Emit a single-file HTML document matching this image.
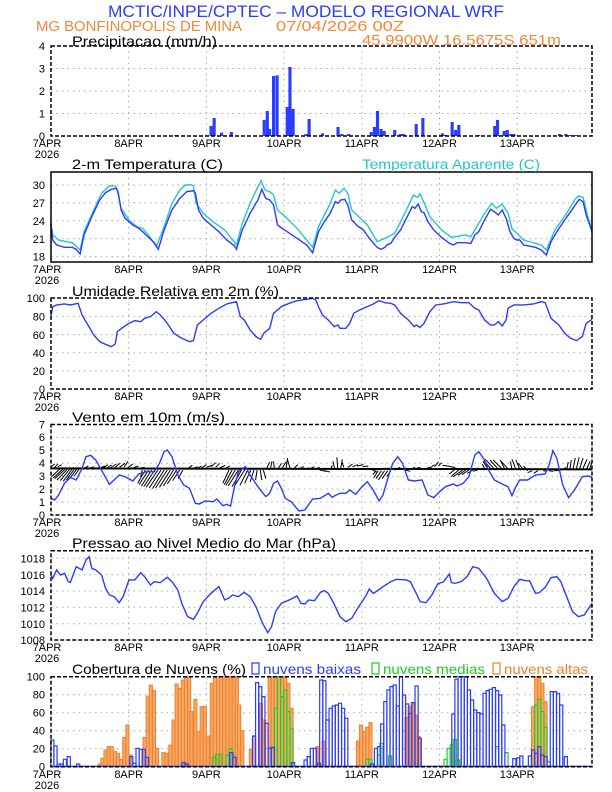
<!DOCTYPE html>
<html><head><meta charset="utf-8"><style>
html,body{margin:0;padding:0;background:#fff}
svg{display:block}
text{font-family:"Liberation Sans",sans-serif}
.t{font-size:11px;fill:#000}
.d{font-size:11px;fill:#000;text-anchor:middle}
.pt{font-size:14px;fill:#000}
.g{stroke:#aaa;stroke-width:1;stroke-dasharray:1.5,4}
.fr{fill:none;stroke:#000;stroke-width:1.5;stroke-dasharray:4,2}
.ln{fill:none;stroke:#2a3cff;stroke-width:1.4;vector-effect:non-scaling-stroke}
.cy{fill:none;stroke:#22c8c8;stroke-width:1.4;vector-effect:non-scaling-stroke}
.pb rect{fill:#2a3cff}
.or rect{fill:#f6a867;stroke:#f07f2a;stroke-width:1;vector-effect:non-scaling-stroke}
.bl rect{fill:none;stroke:#2a3cff;stroke-width:1.2;vector-effect:non-scaling-stroke}
.gr rect{fill:none;stroke:#22cc22;stroke-width:1.2;vector-effect:non-scaling-stroke}
.wa{fill:none;stroke:#000;stroke-width:1;vector-effect:non-scaling-stroke}
</style></head><body>
<svg width="612" height="792" viewBox="0 0 612 792" xmlns="http://www.w3.org/2000/svg">
<text x="108" y="17" style="font-size:17px;fill:#2a3cff" textLength="396" lengthAdjust="spacingAndGlyphs">MCTIC/INPE/CPTEC – MODELO REGIONAL WRF</text>
<text x="36" y="31" style="font-size:15px;fill:#f0883a" textLength="206" lengthAdjust="spacingAndGlyphs">MG BONFINOPOLIS DE MINA</text>
<text x="276" y="31" style="font-size:15px;fill:#f0883a" textLength="128" lengthAdjust="spacingAndGlyphs">07/04/2026 00Z</text>
<text x="362" y="45" style="font-size:15px;fill:#f0883a" textLength="199" lengthAdjust="spacingAndGlyphs">45.9900W 16.5675S 651m</text>

<g class="g">
<line x1="51" x2="592" y1="113.5" y2="113.5"/><line x1="51" x2="592" y1="91" y2="91"/><line x1="51" x2="592" y1="68.5" y2="68.5"/>
<line x1="51" x2="592" y1="185" y2="185"/><line x1="51" x2="592" y1="202.9" y2="202.9"/><line x1="51" x2="592" y1="220.8" y2="220.8"/><line x1="51" x2="592" y1="238.7" y2="238.7"/><line x1="51" x2="592" y1="256.6" y2="256.6"/>
<line x1="51" x2="592" y1="370.9" y2="370.9"/><line x1="51" x2="592" y1="352.7" y2="352.7"/><line x1="51" x2="592" y1="334.6" y2="334.6"/><line x1="51" x2="592" y1="316.4" y2="316.4"/>
<line x1="51" x2="592" y1="502.1" y2="502.1"/><line x1="51" x2="592" y1="489.1" y2="489.1"/><line x1="51" x2="592" y1="476.2" y2="476.2"/><line x1="51" x2="592" y1="463.3" y2="463.3"/><line x1="51" x2="592" y1="450.4" y2="450.4"/><line x1="51" x2="592" y1="437.4" y2="437.4"/>
<line x1="51" x2="592" y1="623.7" y2="623.7"/><line x1="51" x2="592" y1="607.3" y2="607.3"/><line x1="51" x2="592" y1="591" y2="591"/><line x1="51" x2="592" y1="574.7" y2="574.7"/><line x1="51" x2="592" y1="558.3" y2="558.3"/>
<line x1="51" x2="592" y1="748.7" y2="748.7"/><line x1="51" x2="592" y1="730.7" y2="730.7"/><line x1="51" x2="592" y1="712.7" y2="712.7"/><line x1="51" x2="592" y1="694.7" y2="694.7"/>
</g>
<g class="g">
<path d="M128.7 46V136M206.4 46V136M284.1 46V136M361.8 46V136M439.5 46V136M517.2 46V136
M128.7 172V262M206.4 172V262M284.1 172V262M361.8 172V262M439.5 172V262M517.2 172V262
M128.7 298V389M206.4 298V389M284.1 298V389M361.8 298V389M439.5 298V389M517.2 298V389
M128.7 424.5V515M206.4 424.5V515M284.1 424.5V515M361.8 424.5V515M439.5 424.5V515M517.2 424.5V515
M128.7 550.7V640M206.4 550.7V640M284.1 550.7V640M361.8 550.7V640M439.5 550.7V640M517.2 550.7V640
M128.7 676.7V766.7M206.4 676.7V766.7M284.1 676.7V766.7M361.8 676.7V766.7M439.5 676.7V766.7M517.2 676.7V766.7"/>
</g>

<g class="pb" transform="matrix(0.3908 0 0 0.3333 0 0)">
<rect x="246" y="405" width="8" height="3"/><rect x="446" y="405" width="8" height="3"/><rect x="536" y="378" width="8" height="30"/><rect x="544" y="354" width="8" height="54"/><rect x="563" y="398" width="8" height="10"/><rect x="588" y="396" width="8" height="12"/><rect x="672" y="360" width="8" height="48"/><rect x="680" y="333" width="8" height="75"/><rect x="686" y="387" width="8" height="21"/><rect x="696" y="228" width="8" height="180"/><rect x="705" y="226" width="8" height="182"/><rect x="731" y="321" width="8" height="87"/><rect x="738" y="201" width="8" height="207"/><rect x="746" y="327" width="8" height="81"/><rect x="779" y="402" width="8" height="6"/><rect x="787" y="357" width="8" height="51"/><rect x="821" y="400" width="8" height="8"/><rect x="861" y="381" width="8" height="27"/><rect x="871" y="402" width="8" height="6"/><rect x="888" y="402" width="8" height="6"/><rect x="946" y="396" width="8" height="12"/><rect x="954" y="381" width="8" height="27"/><rect x="962" y="333" width="8" height="75"/><rect x="971" y="387" width="8" height="21"/><rect x="979" y="393" width="8" height="15"/><rect x="988" y="405" width="8" height="3"/><rect x="1006" y="390" width="8" height="18"/><rect x="1021" y="402" width="8" height="6"/><rect x="1028" y="402" width="8" height="6"/><rect x="1061" y="372" width="8" height="36"/><rect x="1078" y="354" width="8" height="54"/><rect x="1128" y="400" width="8" height="8"/><rect x="1136" y="405" width="8" height="3"/><rect x="1153" y="366" width="8" height="42"/><rect x="1162" y="390" width="8" height="18"/><rect x="1170" y="375" width="8" height="33"/><rect x="1221" y="405" width="8" height="3"/><rect x="1262" y="378" width="8" height="30"/><rect x="1269" y="360" width="8" height="48"/><rect x="1286" y="393" width="8" height="15"/><rect x="1294" y="390" width="8" height="18"/><rect x="1303" y="402" width="8" height="6"/><rect x="1311" y="402" width="8" height="6"/><rect x="1428" y="402" width="8" height="6"/><rect x="1444" y="402" width="8" height="6"/><rect x="1456" y="405" width="8" height="3"/><rect x="1469" y="405" width="8" height="3"/>
</g>

<g transform="matrix(0.3908 0 0 0.3333 0 160)">
<polyline class="cy" points="130,190 135,225 150,240 170,245 185,248 205,270 215,215 240,150 260,100 280,77 295,78 300,90 310,145 330,180 350,200 365,205 380,225 400,260 420,200 440,130 460,90 475,75 490,74 495,78 502,130 520,160 545,185 575,210 605,255 620,190 640,130 660,80 668,62 678,90 690,95 700,105 710,150 730,170 760,205 800,262 815,200 830,165 845,130 858,90 868,100 880,85 890,100 900,150 940,195 965,245 985,235 1010,220 1040,150 1058,105 1068,112 1075,102 1085,128 1100,170 1130,210 1155,232 1190,225 1205,230 1220,200 1240,160 1258,130 1270,145 1285,132 1300,160 1310,205 1340,240 1385,255 1398,270 1420,210 1450,160 1470,120 1480,108 1492,112 1505,175 1515,210"/>
<polyline class="ln" points="130,190 135,240 145,255 165,262 185,262 195,268 205,282 215,225 235,170 255,120 270,98 285,88 297,85 302,95 310,150 320,175 340,195 355,205 365,215 380,232 395,248 405,268 420,210 440,150 460,115 478,95 495,92 500,100 508,150 520,175 540,195 560,215 580,240 600,258 605,268 620,210 640,160 660,120 670,88 680,115 690,120 700,135 710,195 725,208 735,215 760,235 785,255 800,278 815,215 830,185 845,160 858,125 865,130 872,120 882,118 890,135 900,180 915,198 930,210 945,235 965,262 975,268 985,262 990,255 1000,250 1010,232 1025,210 1040,175 1055,140 1062,145 1070,132 1078,155 1085,158 1095,185 1110,210 1130,232 1150,250 1160,255 1170,248 1190,248 1205,250 1215,225 1225,215 1240,180 1255,148 1265,155 1275,165 1285,150 1295,175 1305,215 1315,235 1322,240 1330,240 1340,255 1370,262 1385,270 1398,285 1410,245 1425,215 1445,180 1460,155 1475,130 1482,118 1492,125 1500,165 1515,215"/>
<polyline class="ln" points="130,470 135,440 145,435 165,432 180,435 200,430 210,465 225,495 240,525 255,545 270,553 285,560 295,552 300,515 315,502 330,490 345,482 360,485 370,475 385,470 400,455 410,465 425,485 445,520 465,535 485,545 495,542 505,495 520,480 540,460 560,445 580,432 605,425 615,470 625,480 640,510 655,530 667,538 675,520 690,505 700,460 720,440 740,430 760,422 785,418 800,415 808,420 815,440 825,465 840,480 855,500 865,495 870,505 885,505 895,490 905,460 920,450 940,440 955,432 970,422 985,428 1000,430 1010,435 1025,460 1045,480 1060,500 1065,495 1075,502 1085,490 1100,455 1115,435 1135,432 1160,425 1180,428 1200,428 1215,445 1225,450 1240,480 1255,495 1265,495 1275,485 1285,498 1295,480 1300,445 1315,435 1340,435 1365,432 1385,425 1395,428 1410,475 1430,495 1445,520 1460,535 1475,542 1490,530 1500,490 1515,478"/>
</g>

<g transform="matrix(0.3908 0 0 0.3333 0 400)">
<path class="wa" style="stroke-width:2" d="M130 205 L1515 208"/>
<path class="wa" d="M130 200l10-8M140 202l8-10M148 200l10-6M154 206l-22 24M160 208l-24 26M166 208l-26 28M172 208l-26 32M178 208l-24 34M184 208l-22 36M190 208l-20 32M196 208l-18 28M202 208l-12 20M210 208l16-10M222 208l18-8M236 208l20-6M250 208l18-10M262 206l14-12M272 205l14-10M282 204l16-12M294 203l14-14M306 202l14-12M318 200l10-16M328 202l12-10M340 204l14-6M352 206l18-4M364 210l-4 20M372 210l-20 40M380 210l-24 44M388 210l-26 48M396 210l-28 50M404 210l-30 52M412 210l-30 54M420 210l-30 56M428 210l-30 54M436 210l-28 52M444 210l-26 48M452 210l-24 42M460 210l-18 32M468 210l-12 26M478 208l14-12M492 206l14-6M504 206l12-8M516 204l12-10M528 202l14-6M540 200l12-12M552 202l10-12M562 204l14-8M576 206l12-8M586 210l-16 40M594 210l-20 44M602 210l-24 46M610 210l-26 48M618 210l-24 50M626 210l-26 48M634 210l-20 46M642 210l-16 40M650 210l-10 36M658 210l-4 30M666 210l4 30M674 210l6 26M682 206l8-20M692 206l4-22M702 206l-2-22M712 206l8-16M722 204l10-18M732 204l4-30M742 204l-6-24M752 206l10-12M764 206l14-6M776 208l16-4M790 208l14-8M804 208l14-6M818 210l16 4M830 212l14 4M846 210l4-14M856 206l-4-22M864 204l-2-32M872 204l4-26M880 202l-6-18M890 202l12-10M902 200l14-6M914 198l16-4M928 200l14-2M940 204l12 4M950 208l14 8M962 212l-8 12M968 212l-12 22M976 212l-14 24M984 212l-16 28M992 212l-14 24M1000 212l-10 18M1010 210l14-8M1022 208l16-4M1036 210l14 4M1050 208l12-6M1062 206l14-4M1074 206l14 2M1088 206l14-4M1100 204l12-10M1112 200l10-14M1122 198l8-10M1132 196l14 2M1146 198l14 4M1158 200l14 8M1168 204l-18 18M1176 208l-22 22M1184 210l-24 20M1192 210l-20 16M1200 210l-18 14M1210 210l-14 10M1222 210l-12 4M1232 208l-10-4M1240 206l-6-14M1248 206l-12-22M1256 206l-18-24M1264 206l-22-28M1274 206l-20-26M1284 206l-22-26M1292 208l-12-28M1300 206l-18-22M1310 208l-4-24M1320 208l-10-30M1330 208l-10-28M1340 210l-14-20M1350 212l-10-14M1362 212l-12 6M1376 212l-10 8M1390 212l10 2M1404 212l12 2M1418 212l12 0M1430 212l10-4M1440 210l8-8M1450 210l4-24M1458 210l4-30M1466 210l6-36M1474 210l8-38M1482 210l10-36M1490 210l12-32M1500 210l10-26M1508 210l6-20"/>
<polyline class="ln" points="130,295 140,300 150,285 165,250 180,232 195,240 210,205 220,170 232,166 245,180 262,215 280,253 292,240 305,225 320,230 340,243 355,222 375,215 395,215 408,190 420,155 428,150 440,170 455,225 470,255 485,265 500,310 510,312 525,303 545,305 555,297 570,317 580,313 590,318 600,260 610,215 628,200 640,225 660,260 680,290 690,280 700,250 710,243 720,265 730,295 745,305 765,333 780,330 800,297 820,295 840,280 850,292 860,285 870,280 885,280 895,270 910,283 925,262 940,245 955,270 970,303 980,285 995,225 1005,190 1018,170 1030,190 1045,240 1060,243 1080,240 1095,285 1110,293 1125,275 1140,260 1160,252 1170,258 1185,250 1200,230 1215,165 1225,155 1240,180 1250,210 1265,240 1290,255 1300,260 1310,287 1320,260 1330,240 1350,240 1370,225 1395,222 1405,195 1415,152 1425,175 1440,255 1455,293 1470,270 1490,230 1505,228 1515,232"/>
<polyline class="ln" points="130,525 135,535 145,510 155,525 165,520 175,545 180,547 195,500 210,510 220,480 228,470 235,505 245,510 260,525 270,565 280,585 292,590 305,608 315,590 330,540 345,540 360,518 370,530 385,555 395,545 410,548 428,532 440,545 455,570 465,610 480,650 495,658 505,640 520,605 540,580 560,560 575,600 585,595 595,585 610,590 625,577 640,590 655,620 670,665 685,698 695,680 705,635 720,610 740,600 760,588 770,610 780,612 790,600 805,602 820,577 830,572 840,580 855,612 870,650 885,665 900,655 915,625 935,590 945,567 955,580 965,573 980,560 1000,545 1015,538 1040,540 1050,545 1065,580 1075,605 1090,608 1105,585 1120,552 1135,545 1150,522 1155,548 1165,550 1180,545 1195,530 1210,500 1225,505 1245,535 1265,580 1285,605 1300,595 1315,560 1330,538 1345,542 1355,542 1370,580 1380,578 1395,562 1410,533 1425,530 1435,545 1450,590 1465,635 1480,650 1495,645 1515,610"/>
</g>

<g transform="matrix(0.3908 0 0 0.3333 0 640)">
<g class="or">
<rect x="251" y="372" width="8" height="8"/><rect x="258" y="355" width="8" height="25"/><rect x="266" y="330" width="8" height="50"/><rect x="274" y="320" width="8" height="60"/><rect x="282" y="320" width="8" height="60"/><rect x="290" y="335" width="8" height="45"/><rect x="298" y="340" width="8" height="40"/><rect x="306" y="358" width="8" height="22"/><rect x="314" y="292" width="8" height="88"/><rect x="322" y="255" width="8" height="125"/><rect x="330" y="345" width="8" height="35"/><rect x="366" y="292" width="8" height="88"/><rect x="374" y="168" width="8" height="212"/><rect x="382" y="135" width="8" height="245"/><rect x="390" y="152" width="8" height="228"/><rect x="398" y="325" width="8" height="55"/><rect x="414" y="338" width="8" height="42"/><rect x="422" y="340" width="8" height="40"/><rect x="432" y="315" width="8" height="65"/><rect x="440" y="240" width="8" height="140"/><rect x="448" y="132" width="8" height="248"/><rect x="456" y="145" width="8" height="235"/><rect x="464" y="120" width="8" height="260"/><rect x="472" y="110" width="8" height="270"/><rect x="480" y="110" width="8" height="270"/><rect x="486" y="215" width="8" height="165"/><rect x="496" y="178" width="8" height="202"/><rect x="504" y="275" width="8" height="105"/><rect x="512" y="200" width="8" height="180"/><rect x="520" y="200" width="8" height="180"/><rect x="528" y="288" width="8" height="92"/><rect x="538" y="130" width="8" height="250"/><rect x="546" y="110" width="8" height="270"/><rect x="554" y="110" width="8" height="270"/><rect x="562" y="110" width="8" height="270"/><rect x="570" y="110" width="8" height="270"/><rect x="578" y="110" width="8" height="270"/><rect x="586" y="110" width="8" height="270"/><rect x="594" y="110" width="8" height="270"/><rect x="602" y="110" width="8" height="270"/><rect x="608" y="195" width="8" height="185"/><rect x="616" y="272" width="8" height="108"/><rect x="638" y="328" width="8" height="52"/><rect x="646" y="290" width="8" height="90"/><rect x="664" y="190" width="8" height="190"/><rect x="672" y="240" width="8" height="140"/><rect x="686" y="110" width="8" height="270"/><rect x="694" y="110" width="8" height="270"/><rect x="702" y="110" width="8" height="270"/><rect x="710" y="110" width="8" height="270"/><rect x="718" y="110" width="8" height="270"/><rect x="726" y="110" width="8" height="270"/><rect x="734" y="130" width="8" height="250"/><rect x="742" y="205" width="8" height="175"/><rect x="808" y="320" width="8" height="60"/><rect x="824" y="303" width="8" height="77"/><rect x="912" y="303" width="8" height="77"/><rect x="920" y="255" width="8" height="125"/><rect x="928" y="275" width="8" height="105"/><rect x="936" y="262" width="8" height="118"/><rect x="944" y="248" width="8" height="132"/><rect x="1036" y="232" width="8" height="148"/><rect x="1044" y="200" width="8" height="180"/><rect x="1052" y="188" width="8" height="192"/><rect x="1060" y="225" width="8" height="155"/><rect x="1068" y="290" width="8" height="90"/><rect x="1360" y="200" width="8" height="180"/><rect x="1368" y="110" width="8" height="270"/><rect x="1376" y="110" width="8" height="270"/><rect x="1384" y="130" width="8" height="250"/><rect x="1392" y="185" width="8" height="195"/>
</g>
<g class="gr">
<rect x="544" y="352" width="8" height="28"/><rect x="552" y="343" width="8" height="37"/><rect x="560" y="343" width="8" height="37"/><rect x="578" y="345" width="8" height="35"/><rect x="586" y="326" width="8" height="54"/><rect x="694" y="325" width="8" height="55"/><rect x="702" y="205" width="8" height="175"/><rect x="710" y="110" width="8" height="270"/><rect x="718" y="170" width="8" height="210"/><rect x="726" y="150" width="8" height="230"/><rect x="734" y="215" width="8" height="165"/><rect x="742" y="265" width="8" height="115"/><rect x="786" y="350" width="8" height="30"/><rect x="936" y="358" width="8" height="22"/><rect x="944" y="358" width="8" height="22"/><rect x="966" y="345" width="8" height="35"/><rect x="972" y="310" width="8" height="70"/><rect x="994" y="348" width="8" height="32"/><rect x="1136" y="358" width="8" height="22"/><rect x="1144" y="325" width="8" height="55"/><rect x="1152" y="315" width="8" height="65"/><rect x="1160" y="298" width="8" height="82"/><rect x="1168" y="360" width="8" height="20"/><rect x="1268" y="320" width="8" height="60"/><rect x="1292" y="338" width="8" height="42"/><rect x="1368" y="195" width="8" height="185"/><rect x="1376" y="178" width="8" height="202"/><rect x="1384" y="215" width="8" height="165"/><rect x="1392" y="262" width="8" height="118"/><rect x="1400" y="365" width="8" height="15"/>
</g>
<g class="bl">
<rect x="130" y="300" width="8" height="80"/><rect x="138" y="318" width="8" height="62"/><rect x="146" y="372" width="8" height="8"/><rect x="154" y="372" width="8" height="8"/><rect x="162" y="358" width="8" height="22"/><rect x="172" y="350" width="8" height="30"/><rect x="196" y="372" width="8" height="8"/><rect x="332" y="350" width="8" height="30"/><rect x="340" y="370" width="8" height="10"/><rect x="348" y="325" width="8" height="55"/><rect x="356" y="328" width="8" height="52"/><rect x="364" y="328" width="8" height="52"/><rect x="372" y="352" width="8" height="28"/><rect x="466" y="368" width="8" height="12"/><rect x="474" y="372" width="8" height="8"/><rect x="588" y="338" width="8" height="42"/><rect x="596" y="352" width="8" height="28"/><rect x="646" y="288" width="8" height="92"/><rect x="654" y="128" width="8" height="252"/><rect x="662" y="140" width="8" height="240"/><rect x="670" y="170" width="8" height="210"/><rect x="678" y="250" width="8" height="130"/><rect x="686" y="325" width="8" height="55"/><rect x="694" y="322" width="8" height="58"/><rect x="746" y="368" width="8" height="12"/><rect x="778" y="360" width="8" height="20"/><rect x="786" y="350" width="8" height="30"/><rect x="794" y="325" width="8" height="55"/><rect x="802" y="325" width="8" height="55"/><rect x="812" y="370" width="8" height="10"/><rect x="818" y="120" width="8" height="260"/><rect x="826" y="122" width="8" height="258"/><rect x="834" y="240" width="8" height="140"/><rect x="842" y="205" width="8" height="175"/><rect x="850" y="198" width="8" height="182"/><rect x="858" y="195" width="8" height="185"/><rect x="866" y="190" width="8" height="190"/><rect x="874" y="205" width="8" height="175"/><rect x="882" y="235" width="8" height="145"/><rect x="948" y="372" width="8" height="8"/><rect x="958" y="325" width="8" height="55"/><rect x="966" y="320" width="8" height="60"/><rect x="974" y="252" width="8" height="128"/><rect x="982" y="185" width="8" height="195"/><rect x="990" y="150" width="8" height="230"/><rect x="998" y="140" width="8" height="240"/><rect x="1006" y="135" width="8" height="245"/><rect x="1014" y="198" width="8" height="182"/><rect x="1022" y="110" width="8" height="270"/><rect x="1030" y="165" width="8" height="215"/><rect x="1038" y="192" width="8" height="188"/><rect x="1046" y="220" width="8" height="160"/><rect x="1054" y="188" width="8" height="192"/><rect x="1062" y="138" width="8" height="242"/><rect x="1070" y="295" width="8" height="85"/><rect x="1156" y="222" width="8" height="158"/><rect x="1164" y="118" width="8" height="262"/><rect x="1172" y="110" width="8" height="270"/><rect x="1180" y="110" width="8" height="270"/><rect x="1188" y="110" width="8" height="270"/><rect x="1196" y="150" width="8" height="230"/><rect x="1204" y="180" width="8" height="200"/><rect x="1212" y="210" width="8" height="170"/><rect x="1220" y="218" width="8" height="162"/><rect x="1228" y="222" width="8" height="158"/><rect x="1236" y="160" width="8" height="220"/><rect x="1244" y="152" width="8" height="228"/><rect x="1252" y="148" width="8" height="232"/><rect x="1260" y="143" width="8" height="237"/><rect x="1268" y="152" width="8" height="228"/><rect x="1276" y="165" width="8" height="215"/><rect x="1284" y="255" width="8" height="125"/><rect x="1312" y="356" width="8" height="24"/><rect x="1322" y="354" width="8" height="26"/><rect x="1330" y="348" width="8" height="32"/><rect x="1352" y="348" width="8" height="32"/><rect x="1360" y="330" width="8" height="50"/><rect x="1368" y="340" width="8" height="40"/><rect x="1376" y="320" width="8" height="60"/><rect x="1384" y="345" width="8" height="35"/><rect x="1392" y="350" width="8" height="30"/><rect x="1408" y="155" width="8" height="225"/><rect x="1416" y="155" width="8" height="225"/><rect x="1424" y="160" width="8" height="220"/><rect x="1432" y="195" width="8" height="185"/><rect x="1444" y="350" width="8" height="30"/>
</g>
<path class="wa" style="stroke:#2a3cff;stroke-width:1.5" d="M130 379H1515"/>
</g>

<rect class="fr" x="51" y="46" width="541" height="90"/>
<rect x="51" y="172" width="541" height="90" fill="none" stroke="#000" stroke-width="1.5"/>
<rect class="fr" x="51" y="298" width="541" height="91"/>
<rect class="fr" x="51" y="424.5" width="541" height="90.5"/>
<rect class="fr" x="51" y="550.7" width="541" height="89.3"/>
<rect class="fr" x="51" y="676.7" width="541" height="90"/>

<text class="pt" x="72" y="46" textLength="145" lengthAdjust="spacingAndGlyphs">Precipitacao (mm/h)</text>
<text class="pt" x="72" y="169" textLength="151" lengthAdjust="spacingAndGlyphs">2-m Temperatura (C)</text>
<text class="pt" x="362" y="169" style="fill:#22c8c8" textLength="178" lengthAdjust="spacingAndGlyphs">Temperatura Aparente (C)</text>
<text class="pt" x="72" y="296" textLength="207" lengthAdjust="spacingAndGlyphs">Umidade Relativa em 2m (%)</text>
<text class="pt" x="72" y="422" textLength="153" lengthAdjust="spacingAndGlyphs">Vento em 10m (m/s)</text>
<text class="pt" x="72" y="548" textLength="264" lengthAdjust="spacingAndGlyphs">Pressao ao Nivel Medio do Mar (hPa)</text>
<text class="pt" x="72" y="674" textLength="174" lengthAdjust="spacingAndGlyphs">Cobertura de Nuvens (%)</text>
<rect x="252" y="663" width="7" height="11" fill="none" stroke="#2a3cff" stroke-width="1.2"/>
<text class="pt" x="263" y="674" style="fill:#2a3cff" textLength="98" lengthAdjust="spacingAndGlyphs">nuvens baixas</text>
<rect x="372" y="663" width="7" height="11" fill="none" stroke="#22cc22" stroke-width="1.2"/>
<text class="pt" x="383" y="674" style="fill:#22cc22" textLength="102" lengthAdjust="spacingAndGlyphs">nuvens medias</text>
<rect x="493" y="663" width="7" height="11" fill="none" stroke="#f07f2a" stroke-width="1.2"/>
<text class="pt" x="504" y="674" style="fill:#f07f2a" textLength="84" lengthAdjust="spacingAndGlyphs">nuvens altas</text>

<g class="t" text-anchor="end">
<text x="45" y="140">0</text><text x="45" y="117.5">1</text><text x="45" y="95">2</text><text x="45" y="72.5">3</text><text x="45" y="50">4</text>
<text x="45" y="189">30</text><text x="45" y="207">27</text><text x="45" y="225">24</text><text x="45" y="243">21</text><text x="45" y="260.5">18</text>
<text x="45" y="393">0</text><text x="45" y="375">20</text><text x="45" y="357">40</text><text x="45" y="339">60</text><text x="45" y="320.5">80</text><text x="45" y="302">100</text>
<text x="45" y="519">0</text><text x="45" y="506">1</text><text x="45" y="493">2</text><text x="45" y="480">3</text><text x="45" y="467">4</text><text x="45" y="454">5</text><text x="45" y="441">6</text><text x="45" y="428.5">7</text>
<text x="45" y="644">1008</text><text x="45" y="628">1010</text><text x="45" y="611.5">1012</text><text x="45" y="595">1014</text><text x="45" y="579">1016</text><text x="45" y="562.5">1018</text>
<text x="45" y="770.5">0</text><text x="45" y="752.5">20</text><text x="45" y="734.5">40</text><text x="45" y="716.5">60</text><text x="45" y="698.5">80</text><text x="45" y="680.5">100</text>
</g>

<g class="d">
<text x="47" y="147">7APR</text><text x="47" y="158">2026</text><text x="128.7" y="147">8APR</text><text x="206.4" y="147">9APR</text><text x="284.1" y="147">10APR</text><text x="361.8" y="147">11APR</text><text x="439.5" y="147">12APR</text><text x="517.2" y="147">13APR</text>
<text x="47" y="273">7APR</text><text x="47" y="284">2026</text><text x="128.7" y="273">8APR</text><text x="206.4" y="273">9APR</text><text x="284.1" y="273">10APR</text><text x="361.8" y="273">11APR</text><text x="439.5" y="273">12APR</text><text x="517.2" y="273">13APR</text>
<text x="47" y="400">7APR</text><text x="47" y="411">2026</text><text x="128.7" y="400">8APR</text><text x="206.4" y="400">9APR</text><text x="284.1" y="400">10APR</text><text x="361.8" y="400">11APR</text><text x="439.5" y="400">12APR</text><text x="517.2" y="400">13APR</text>
<text x="47" y="526">7APR</text><text x="47" y="537">2026</text><text x="128.7" y="526">8APR</text><text x="206.4" y="526">9APR</text><text x="284.1" y="526">10APR</text><text x="361.8" y="526">11APR</text><text x="439.5" y="526">12APR</text><text x="517.2" y="526">13APR</text>
<text x="47" y="651">7APR</text><text x="47" y="662">2026</text><text x="128.7" y="651">8APR</text><text x="206.4" y="651">9APR</text><text x="284.1" y="651">10APR</text><text x="361.8" y="651">11APR</text><text x="439.5" y="651">12APR</text><text x="517.2" y="651">13APR</text>
<text x="47" y="778">7APR</text><text x="47" y="789">2026</text><text x="128.7" y="778">8APR</text><text x="206.4" y="778">9APR</text><text x="284.1" y="778">10APR</text><text x="361.8" y="778">11APR</text><text x="439.5" y="778">12APR</text><text x="517.2" y="778">13APR</text>
</g>
</svg>
</body></html>
